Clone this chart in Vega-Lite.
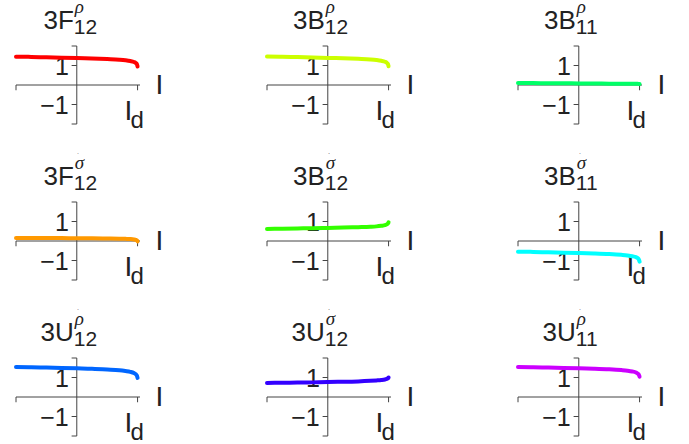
{
  "$schema": "https://vega.github.io/schema/vega-lite/v6.json",
  "padding": {"left": 14, "top": -3, "right": 4, "bottom": 2},
  "background": "white",
  "data": {
    "values": [
      {"panel": "p1", "main": "3F", "sup": "ρ", "sub": "12"},
      {"panel": "p2", "main": "3B", "sup": "ρ", "sub": "12"},
      {"panel": "p3", "main": "3B", "sup": "ρ", "sub": "11"},
      {"panel": "p4", "main": "3F", "sup": "σ", "sub": "12"},
      {"panel": "p5", "main": "3B", "sup": "σ", "sub": "12"},
      {"panel": "p6", "main": "3B", "sup": "σ", "sub": "11"},
      {"panel": "p7", "main": "3U", "sup": "ρ", "sub": "12"},
      {"panel": "p8", "main": "3U", "sup": "σ", "sub": "12"},
      {"panel": "p9", "main": "3U", "sup": "ρ", "sub": "11"},

      {"panel": "p1", "x": -1, "y": 1.45}, {"panel": "p1", "x": -0.75, "y": 1.44}, {"panel": "p1", "x": -0.5, "y": 1.42},
      {"panel": "p1", "x": -0.25, "y": 1.4}, {"panel": "p1", "x": 0, "y": 1.38}, {"panel": "p1", "x": 0.25, "y": 1.36},
      {"panel": "p1", "x": 0.5, "y": 1.33}, {"panel": "p1", "x": 0.7, "y": 1.3}, {"panel": "p1", "x": 0.8, "y": 1.27},
      {"panel": "p1", "x": 0.88, "y": 1.23}, {"panel": "p1", "x": 0.94, "y": 1.18}, {"panel": "p1", "x": 0.97, "y": 1.13},
      {"panel": "p1", "x": 0.99, "y": 1.06}, {"panel": "p1", "x": 1, "y": 0.95},

      {"panel": "p2", "x": -1, "y": 1.46}, {"panel": "p2", "x": -0.75, "y": 1.45}, {"panel": "p2", "x": -0.5, "y": 1.43},
      {"panel": "p2", "x": -0.25, "y": 1.41}, {"panel": "p2", "x": 0, "y": 1.39}, {"panel": "p2", "x": 0.25, "y": 1.37},
      {"panel": "p2", "x": 0.5, "y": 1.34}, {"panel": "p2", "x": 0.7, "y": 1.31}, {"panel": "p2", "x": 0.8, "y": 1.28},
      {"panel": "p2", "x": 0.88, "y": 1.24}, {"panel": "p2", "x": 0.94, "y": 1.19}, {"panel": "p2", "x": 0.97, "y": 1.14},
      {"panel": "p2", "x": 0.99, "y": 1.07}, {"panel": "p2", "x": 1, "y": 0.96},

      {"panel": "p3", "x": -1, "y": 0.1}, {"panel": "p3", "x": -0.75, "y": 0.1}, {"panel": "p3", "x": -0.5, "y": 0.09},
      {"panel": "p3", "x": -0.25, "y": 0.09}, {"panel": "p3", "x": 0, "y": 0.08}, {"panel": "p3", "x": 0.25, "y": 0.08},
      {"panel": "p3", "x": 0.5, "y": 0.07}, {"panel": "p3", "x": 0.7, "y": 0.07}, {"panel": "p3", "x": 0.8, "y": 0.07},
      {"panel": "p3", "x": 0.88, "y": 0.06}, {"panel": "p3", "x": 0.94, "y": 0.06}, {"panel": "p3", "x": 0.97, "y": 0.06},
      {"panel": "p3", "x": 0.99, "y": 0.05}, {"panel": "p3", "x": 1, "y": 0.05},

      {"panel": "p4", "x": -1, "y": 0.16}, {"panel": "p4", "x": -0.75, "y": 0.16}, {"panel": "p4", "x": -0.5, "y": 0.15},
      {"panel": "p4", "x": -0.25, "y": 0.15}, {"panel": "p4", "x": 0, "y": 0.14}, {"panel": "p4", "x": 0.25, "y": 0.14},
      {"panel": "p4", "x": 0.5, "y": 0.13}, {"panel": "p4", "x": 0.7, "y": 0.12}, {"panel": "p4", "x": 0.8, "y": 0.11},
      {"panel": "p4", "x": 0.88, "y": 0.1}, {"panel": "p4", "x": 0.94, "y": 0.08}, {"panel": "p4", "x": 0.97, "y": 0.06},
      {"panel": "p4", "x": 0.99, "y": 0.03}, {"panel": "p4", "x": 1, "y": -0.02},

      {"panel": "p5", "x": -1, "y": 0.62}, {"panel": "p5", "x": -0.75, "y": 0.63}, {"panel": "p5", "x": -0.5, "y": 0.64},
      {"panel": "p5", "x": -0.25, "y": 0.66}, {"panel": "p5", "x": 0, "y": 0.67}, {"panel": "p5", "x": 0.25, "y": 0.69},
      {"panel": "p5", "x": 0.5, "y": 0.71}, {"panel": "p5", "x": 0.7, "y": 0.73}, {"panel": "p5", "x": 0.8, "y": 0.75},
      {"panel": "p5", "x": 0.88, "y": 0.78}, {"panel": "p5", "x": 0.94, "y": 0.81}, {"panel": "p5", "x": 0.97, "y": 0.85},
      {"panel": "p5", "x": 0.99, "y": 0.9}, {"panel": "p5", "x": 1, "y": 0.96},

      {"panel": "p6", "x": -1, "y": -0.55}, {"panel": "p6", "x": -0.75, "y": -0.56}, {"panel": "p6", "x": -0.5, "y": -0.58},
      {"panel": "p6", "x": -0.25, "y": -0.6}, {"panel": "p6", "x": 0, "y": -0.62}, {"panel": "p6", "x": 0.25, "y": -0.64},
      {"panel": "p6", "x": 0.5, "y": -0.67}, {"panel": "p6", "x": 0.7, "y": -0.71}, {"panel": "p6", "x": 0.8, "y": -0.74},
      {"panel": "p6", "x": 0.88, "y": -0.78}, {"panel": "p6", "x": 0.94, "y": -0.83}, {"panel": "p6", "x": 0.97, "y": -0.88},
      {"panel": "p6", "x": 0.99, "y": -0.96}, {"panel": "p6", "x": 1, "y": -1.06},

      {"panel": "p7", "x": -1, "y": 1.54}, {"panel": "p7", "x": -0.75, "y": 1.53}, {"panel": "p7", "x": -0.5, "y": 1.51},
      {"panel": "p7", "x": -0.25, "y": 1.49}, {"panel": "p7", "x": 0, "y": 1.47}, {"panel": "p7", "x": 0.25, "y": 1.45},
      {"panel": "p7", "x": 0.5, "y": 1.41}, {"panel": "p7", "x": 0.7, "y": 1.37}, {"panel": "p7", "x": 0.8, "y": 1.33},
      {"panel": "p7", "x": 0.88, "y": 1.29}, {"panel": "p7", "x": 0.94, "y": 1.23}, {"panel": "p7", "x": 0.97, "y": 1.17},
      {"panel": "p7", "x": 0.99, "y": 1.09}, {"panel": "p7", "x": 1, "y": 0.98},

      {"panel": "p8", "x": -1, "y": 0.72}, {"panel": "p8", "x": -0.75, "y": 0.73}, {"panel": "p8", "x": -0.5, "y": 0.74},
      {"panel": "p8", "x": -0.25, "y": 0.75}, {"panel": "p8", "x": 0, "y": 0.77}, {"panel": "p8", "x": 0.25, "y": 0.78},
      {"panel": "p8", "x": 0.5, "y": 0.8}, {"panel": "p8", "x": 0.7, "y": 0.83}, {"panel": "p8", "x": 0.8, "y": 0.85},
      {"panel": "p8", "x": 0.88, "y": 0.87}, {"panel": "p8", "x": 0.94, "y": 0.9}, {"panel": "p8", "x": 0.97, "y": 0.93},
      {"panel": "p8", "x": 0.99, "y": 0.96}, {"panel": "p8", "x": 1, "y": 1.0},

      {"panel": "p9", "x": -1, "y": 1.54}, {"panel": "p9", "x": -0.75, "y": 1.53}, {"panel": "p9", "x": -0.5, "y": 1.51},
      {"panel": "p9", "x": -0.25, "y": 1.49}, {"panel": "p9", "x": 0, "y": 1.47}, {"panel": "p9", "x": 0.25, "y": 1.45},
      {"panel": "p9", "x": 0.5, "y": 1.42}, {"panel": "p9", "x": 0.7, "y": 1.38}, {"panel": "p9", "x": 0.8, "y": 1.35},
      {"panel": "p9", "x": 0.88, "y": 1.31}, {"panel": "p9", "x": 0.94, "y": 1.26}, {"panel": "p9", "x": 0.97, "y": 1.2},
      {"panel": "p9", "x": 0.99, "y": 1.13}, {"panel": "p9", "x": 1, "y": 1.04}
    ]
  },
  "facet": {"field": "panel", "type": "nominal", "header": {"labels": false, "title": null, "labelFontSize": 1, "labelPadding": 0}},
  "columns": 3,
  "spacing": {"row": 78, "column": 127},
  "bounds": "flush",
  "spec": {
    "width": 124,
    "height": 78,
    "layer": [
      {
        "transform": [{"filter": "isValid(datum.main)"}],
        "mark": {"type": "rule", "color": "#444", "strokeWidth": 1},
        "encoding": {
          "x": {"datum": -1, "type": "quantitative", "scale": {"domain": [-1, 1.04], "nice": false, "zero": false}, "axis": null},
          "x2": {"datum": 1.04},
          "y": {"datum": 0, "type": "quantitative", "scale": {"domain": [-2, 2], "nice": false, "zero": false}, "axis": null}
        }
      },
      {
        "transform": [{"filter": "isValid(datum.main)"}],
        "mark": {"type": "rule", "color": "#444", "strokeWidth": 1},
        "encoding": {
          "x": {"datum": 0, "type": "quantitative", "axis": null},
          "y": {"datum": -2, "type": "quantitative", "axis": null},
          "y2": {"datum": 2}
        }
      },
      {
        "transform": [{"filter": "isValid(datum.main)"}],
        "mark": {"type": "rule", "color": "#444", "strokeWidth": 1},
        "encoding": {
          "x": {"datum": -1, "type": "quantitative", "axis": null},
          "y": {"datum": 0, "type": "quantitative", "axis": null},
          "y2": {"datum": -0.27}
        }
      },
      {
        "transform": [{"filter": "isValid(datum.main)"}],
        "mark": {"type": "rule", "color": "#444", "strokeWidth": 1},
        "encoding": {
          "x": {"datum": 1, "type": "quantitative", "axis": null},
          "y": {"datum": 0, "type": "quantitative", "axis": null},
          "y2": {"datum": -0.27}
        }
      },
      {
        "transform": [{"filter": "isValid(datum.main)"}],
        "mark": {"type": "rule", "color": "#444", "strokeWidth": 1},
        "encoding": {
          "x": {"datum": 0, "type": "quantitative", "axis": null},
          "x2": {"datum": -0.085},
          "y": {"datum": 2, "type": "quantitative", "axis": null}
        }
      },
      {
        "transform": [{"filter": "isValid(datum.main)"}],
        "mark": {"type": "rule", "color": "#444", "strokeWidth": 1},
        "encoding": {
          "x": {"datum": 0, "type": "quantitative", "axis": null},
          "x2": {"datum": -0.085},
          "y": {"datum": 1, "type": "quantitative", "axis": null}
        }
      },
      {
        "transform": [{"filter": "isValid(datum.main)"}],
        "mark": {"type": "rule", "color": "#444", "strokeWidth": 1},
        "encoding": {
          "x": {"datum": 0, "type": "quantitative", "axis": null},
          "x2": {"datum": -0.085},
          "y": {"datum": -1, "type": "quantitative", "axis": null}
        }
      },
      {
        "transform": [{"filter": "isValid(datum.main)"}],
        "mark": {"type": "rule", "color": "#444", "strokeWidth": 1},
        "encoding": {
          "x": {"datum": 0, "type": "quantitative", "axis": null},
          "x2": {"datum": -0.085},
          "y": {"datum": -2, "type": "quantitative", "axis": null}
        }
      },
      {
        "transform": [{"filter": "isValid(datum.main)"}],
        "mark": {"type": "text", "text": "1", "align": "right", "baseline": "middle", "dx": -8, "dy": 1, "fontSize": 25, "font": "Liberation Sans", "color": "#222"},
        "encoding": {
          "x": {"datum": 0, "type": "quantitative", "axis": null},
          "y": {"datum": 1, "type": "quantitative", "axis": null}
        }
      },
      {
        "transform": [{"filter": "isValid(datum.main)"}],
        "mark": {"type": "text", "text": "−1", "align": "right", "baseline": "middle", "dx": -8, "dy": 1, "fontSize": 25, "font": "Liberation Sans", "color": "#222"},
        "encoding": {
          "x": {"datum": 0, "type": "quantitative", "axis": null},
          "y": {"datum": -1, "type": "quantitative", "axis": null}
        }
      },
      {
        "transform": [{"filter": "isValid(datum.main)"}],
        "mark": {"type": "text", "align": "right", "baseline": "alphabetic", "dx": -3, "dy": -17, "fontSize": 26, "font": "Liberation Sans", "color": "#222"},
        "encoding": {
          "x": {"datum": 0, "type": "quantitative", "axis": null},
          "y": {"datum": 2, "type": "quantitative", "axis": null},
          "text": {"field": "main"}
        }
      },
      {
        "transform": [{"filter": "isValid(datum.main)"}],
        "mark": {"type": "text", "align": "left", "baseline": "alphabetic", "dx": -2, "dy": -33, "fontSize": 19, "fontStyle": "italic", "font": "Liberation Serif", "color": "#222"},
        "encoding": {
          "x": {"datum": 0, "type": "quantitative", "axis": null},
          "y": {"datum": 2, "type": "quantitative", "axis": null},
          "text": {"field": "sup"}
        }
      },
      {
        "transform": [{"filter": "isValid(datum.main)"}],
        "mark": {"type": "text", "align": "left", "baseline": "alphabetic", "dx": -3, "dy": -12, "fontSize": 21, "font": "Liberation Sans", "color": "#222"},
        "encoding": {
          "x": {"datum": 0, "type": "quantitative", "axis": null},
          "y": {"datum": 2, "type": "quantitative", "axis": null},
          "text": {"field": "sub"}
        }
      },
      {
        "transform": [{"filter": "isValid(datum.main)"}],
        "mark": {"type": "text", "text": "I", "align": "left", "baseline": "alphabetic", "dx": 18, "dy": 9, "fontSize": 28, "font": "Liberation Sans", "color": "#222"},
        "encoding": {
          "x": {"datum": 1, "type": "quantitative", "axis": null},
          "y": {"datum": 0, "type": "quantitative", "axis": null}
        }
      },
      {
        "transform": [{"filter": "isValid(datum.main)"}],
        "mark": {"type": "text", "text": "I", "align": "left", "baseline": "alphabetic", "dx": -13, "dy": 35, "fontSize": 28, "font": "Liberation Sans", "color": "#222"},
        "encoding": {
          "x": {"datum": 1, "type": "quantitative", "axis": null},
          "y": {"datum": 0, "type": "quantitative", "axis": null}
        }
      },
      {
        "transform": [{"filter": "isValid(datum.main)"}],
        "mark": {"type": "text", "text": "d", "align": "left", "baseline": "alphabetic", "dx": -7, "dy": 43, "fontSize": 24, "font": "Liberation Sans", "color": "#222"},
        "encoding": {
          "x": {"datum": 1, "type": "quantitative", "axis": null},
          "y": {"datum": 0, "type": "quantitative", "axis": null}
        }
      },
      {
        "transform": [{"filter": "isValid(datum.x)"}],
        "mark": {"type": "line", "strokeWidth": 4, "strokeCap": "round", "strokeJoin": "round", "interpolate": "monotone", "clip": false},
        "encoding": {
          "x": {"field": "x", "type": "quantitative", "axis": null},
          "y": {"field": "y", "type": "quantitative", "axis": null},
          "color": {
            "field": "panel", "type": "nominal", "legend": null,
            "scale": {
              "domain": ["p1", "p2", "p3", "p4", "p5", "p6", "p7", "p8", "p9"],
              "range": ["#FF0000", "#CCFF00", "#00FF66", "#FF9900", "#33FF00", "#00FFFF", "#0066FF", "#3300FF", "#CC00FF"]
            }
          }
        }
      }
    ]
  },
  "config": {
    "view": {"stroke": null},
    "font": "Liberation Sans",
    "header": {"labels": false, "title": null}
  }
}
